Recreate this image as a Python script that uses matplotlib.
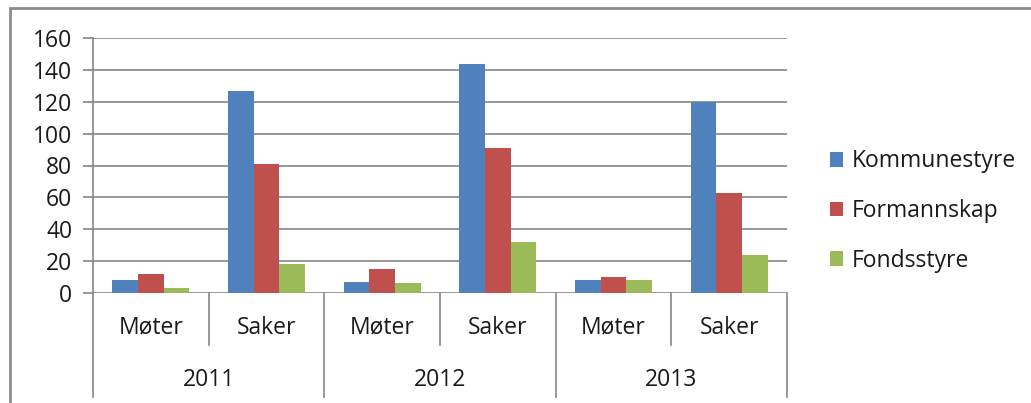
import numpy as np
import matplotlib.pyplot as plt
from matplotlib.patches import Rectangle
import matplotlib.transforms as mtransforms

# data
years = ['2011', '2012', '2013']
subcats = ['Møter', 'Saker']
series_names = ['Kommunestyre', 'Formannskap', 'Fondsstyre']
kommunestyre = [8, 127, 7, 144, 8, 120]
formannskap = [12, 81, 15, 91, 10, 63]
fondsstyre = [3, 18, 6, 32, 8, 24]
colors = ['#4F81BD', '#C0504D', '#9BBB59']

plt.rcParams['font.family'] = ['Open Sans', 'DejaVu Sans']
grid_col = '#868686'
text_col = '#1a1a1a'
fs = 16.5

fig = plt.figure(figsize=(10.31, 4.03), dpi=100)
ax = fig.add_axes([93 / 1031, 110 / 403, (787 - 93) / 1031, 255 / 403])

n = len(years) * len(subcats)
x = np.arange(n)
bw = 1 / 4.5
for i, (vals, name) in enumerate(zip([kommunestyre, formannskap, fondsstyre], series_names)):
    ax.bar(x + (i - 1) * bw, vals, width=bw, color=colors[i], label=name, zorder=3)

ax.set_xlim(-0.5, n - 0.5)
ax.set_ylim(0, 160)
ax.set_yticks(range(0, 161, 20))
ax.yaxis.grid(True, color=grid_col, linewidth=1.2, zorder=0)
ax.tick_params(axis='y', length=7, width=1.2, color=grid_col, pad=8,
               labelsize=fs, labelcolor=text_col)
ax.set_xticks([])
for s in ['top', 'right', 'bottom']:
    ax.spines[s].set_visible(False)
ax.spines['left'].set_color(grid_col)
ax.spines['left'].set_linewidth(1.2)

# two-level category axis
trans = mtransforms.blended_transform_factory(ax.transData, ax.transAxes)
for k in range(n + 1):
    xb = k - 0.5
    y_low = -0.408 if k % 2 == 0 else -0.204
    ax.plot([xb, xb], [0, y_low], transform=trans, color=grid_col,
            linewidth=1.2, clip_on=False)
for k in range(n):
    ax.text(k, -0.137, subcats[k % 2], transform=trans, ha='center', va='center',
            fontsize=fs, color=text_col)
for j, yr in enumerate(years):
    ax.text(2 * j + 0.5, -0.341, yr, transform=trans, ha='center', va='center',
            fontsize=fs, color=text_col)

leg = fig.legend(loc='center left', bbox_to_anchor=(809 / 1031, 208 / 403 - 0.04),
                 frameon=False, fontsize=fs, handlelength=0.6, handleheight=0.6,
                 handletextpad=0.35, labelspacing=1.12)
for t in leg.get_texts():
    t.set_color(text_col)

# outer chart frame
fig.add_artist(Rectangle((10 / 1031, -0.1), 1.0, 395 / 403 + 0.1, transform=fig.transFigure,
                         fill=False, edgecolor='#8c8c8c', linewidth=2))

fig.savefig('out.png', dpi=100)
